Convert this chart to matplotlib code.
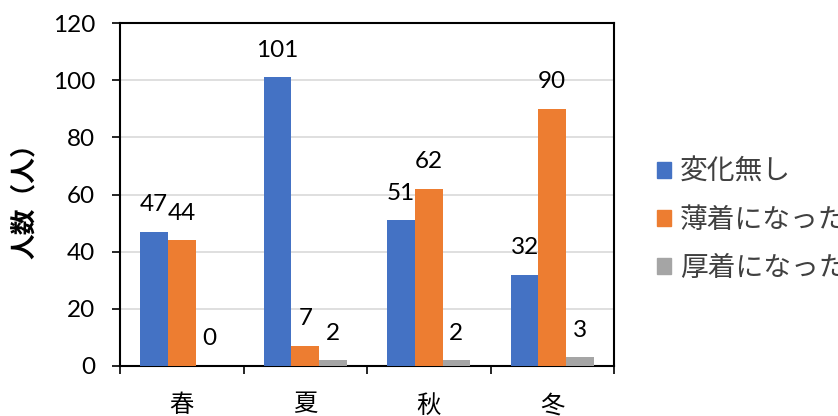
import numpy as np
import matplotlib.pyplot as plt
from matplotlib.patches import Patch

plt.rcParams['font.family'] = ['Lato', 'Noto Sans CJK JP', 'DejaVu Sans']

seasons = ['春', '夏', '秋', '冬']
series_names = ['変化無し', '薄着になった', '厚着になった']
no_change = [47, 101, 51, 32]
lighter = [44, 7, 62, 90]
heavier = [0, 2, 2, 3]
colors = ['#4472C4', '#ED7D31', '#A5A5A5']

fig = plt.figure(figsize=(8.38, 4.16), dpi=100)
ax = fig.add_axes([0.1432, 0.1202, 0.5895, 0.8245])

x = np.arange(len(seasons))
w = 0.223
for i, (vals, c) in enumerate(zip([no_change, lighter, heavier], colors)):
    bars = ax.bar(x + (i - 1) * w, vals, w, color=c, zorder=3)
    for b, v in zip(bars, vals):
        ax.annotate(str(v), (b.get_x() + b.get_width() / 2, v),
                    xytext=(0, 19.5), textcoords='offset points',
                    ha='center', va='center', fontsize=17.5)

ax.set_xlim(-0.5, 3.5)
ax.set_ylim(0, 120)
ax.set_yticks(range(0, 121, 20))
ax.grid(axis='y', color='#D9D9D9', lw=1.2, zorder=0)
ax.set_xticks(x)
ax.set_xticklabels(seasons, fontsize=17.5)
ax.set_xticks(np.arange(-0.5, 4, 1), minor=True)
ax.tick_params(axis='x', which='major', length=0, pad=20)
ax.tick_params(axis='x', which='minor', length=6, width=1.2, direction='out')
ax.tick_params(axis='y', length=6, width=1.2, pad=12, labelsize=17.5)
for s in ax.spines.values():
    s.set_linewidth(1.5)

ax.set_ylabel('人数（人）', fontsize=18.5, fontweight='bold', labelpad=12)

# legend runs off the right edge, as in the original
handles = [Patch(color=c) for c in colors]
leg = fig.legend(handles, series_names, loc='center left',
                 bbox_to_anchor=(0.784, 0.472), frameon=False, fontsize=20,
                 handlelength=0.52, handleheight=0.52, handletextpad=0.3,
                 labelspacing=0.8, borderaxespad=0, borderpad=0)
for t in leg.get_texts():
    t.set_color('#404040')

fig.savefig('out.png', dpi=100)
